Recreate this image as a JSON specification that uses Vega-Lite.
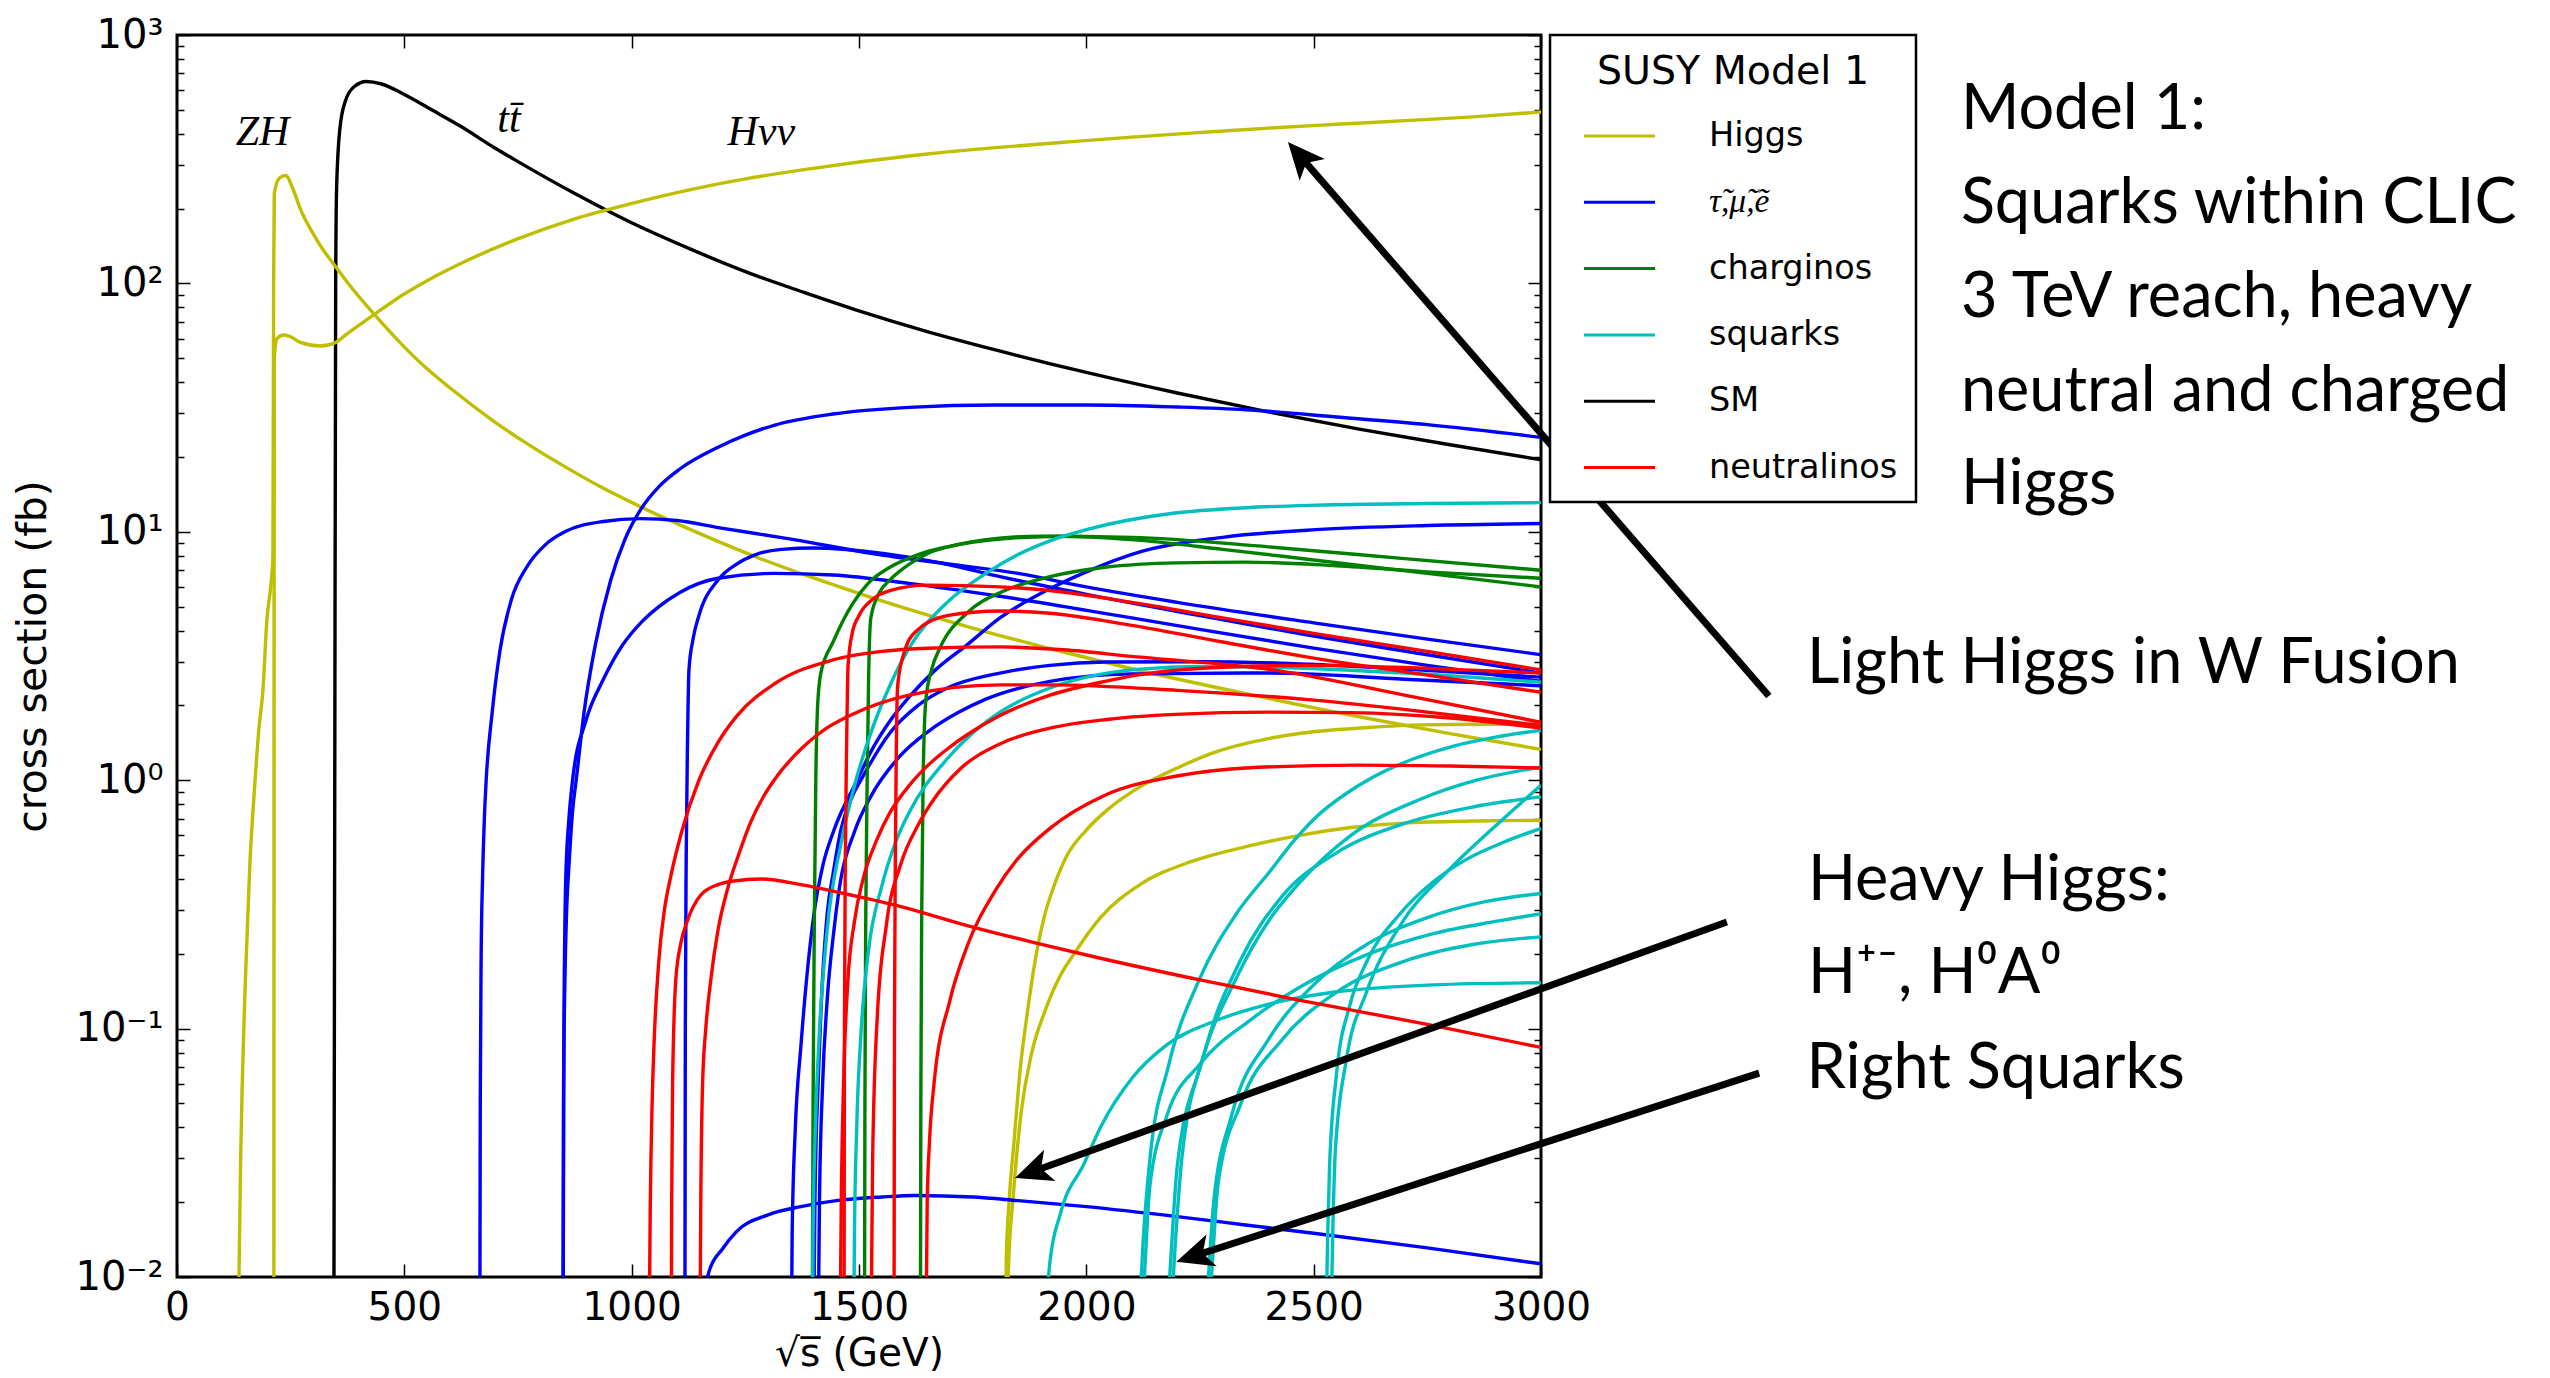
{
  "$schema": "https://vega.github.io/schema/vega-lite/v6.json",
  "width": 1364,
  "height": 1242,
  "autosize": "none",
  "padding": {"left": 177, "top": 35, "right": 1009, "bottom": 101},
  "background": "white",
  "config": {"view": {"stroke": "black", "strokeWidth": 3}, "font": "DejaVu Sans", "legend": {"strokeWidth": 2.5}},
  "datasets": {
    "curves": [
      {"g":"SM","id":"sm","x":345,"y":0.005},{"g":"SM","id":"sm","x":347,"y":1},{"g":"SM","id":"sm","x":349,"y":100},{"g":"SM","id":"sm","x":351,"y":240},{"g":"SM","id":"sm","x":358,"y":415},{"g":"SM","id":"sm","x":370,"y":540},{"g":"SM","id":"sm","x":390,"y":620},{"g":"SM","id":"sm","x":416,"y":650},{"g":"SM","id":"sm","x":450,"y":635},{"g":"SM","id":"sm","x":497,"y":580},{"g":"SM","id":"sm","x":560,"y":500},{"g":"SM","id":"sm","x":623,"y":430},{"g":"SM","id":"sm","x":700,"y":350},{"g":"SM","id":"sm","x":749,"y":310},{"g":"SM","id":"sm","x":875,"y":230},{"g":"SM","id":"sm","x":1001,"y":175},{"g":"SM","id":"sm","x":1127,"y":138},{"g":"SM","id":"sm","x":1253,"y":111},{"g":"SM","id":"sm","x":1379,"y":92},{"g":"SM","id":"sm","x":1505,"y":77},{"g":"SM","id":"sm","x":1650,"y":64},{"g":"SM","id":"sm","x":1800,"y":54},{"g":"SM","id":"sm","x":2000,"y":43.8},{"g":"SM","id":"sm","x":2200,"y":36.2},{"g":"SM","id":"sm","x":2400,"y":30.4},{"g":"SM","id":"sm","x":2600,"y":25.9},{"g":"SM","id":"sm","x":2800,"y":22.4},{"g":"SM","id":"sm","x":3000,"y":19.5},

      {"g":"Higgs","id":"zh","x":134,"y":0.005},{"g":"Higgs","id":"zh","x":140,"y":0.03},{"g":"Higgs","id":"zh","x":150,"y":0.15},{"g":"Higgs","id":"zh","x":160,"y":0.45},{"g":"Higgs","id":"zh","x":170,"y":0.9},{"g":"Higgs","id":"zh","x":180,"y":1.6},{"g":"Higgs","id":"zh","x":189,"y":2.3},{"g":"Higgs","id":"zh","x":198,"y":4.5},{"g":"Higgs","id":"zh","x":206,"y":6},{"g":"Higgs","id":"zh","x":211,"y":8},{"g":"Higgs","id":"zh","x":212.5,"y":100},{"g":"Higgs","id":"zh","x":214,"y":230},{"g":"Higgs","id":"zh","x":225,"y":265},{"g":"Higgs","id":"zh","x":239,"y":272},{"g":"Higgs","id":"zh","x":255,"y":240},{"g":"Higgs","id":"zh","x":271,"y":200},{"g":"Higgs","id":"zh","x":300,"y":158},{"g":"Higgs","id":"zh","x":321,"y":137},{"g":"Higgs","id":"zh","x":350,"y":116},{"g":"Higgs","id":"zh","x":371,"y":103},{"g":"Higgs","id":"zh","x":434,"y":75},{"g":"Higgs","id":"zh","x":497,"y":56.2},{"g":"Higgs","id":"zh","x":550,"y":45.3},{"g":"Higgs","id":"zh","x":600,"y":38},{"g":"Higgs","id":"zh","x":700,"y":27.6},{"g":"Higgs","id":"zh","x":769,"y":22.7},{"g":"Higgs","id":"zh","x":853,"y":18.3},{"g":"Higgs","id":"zh","x":937,"y":15.0},{"g":"Higgs","id":"zh","x":1020,"y":12.6},{"g":"Higgs","id":"zh","x":1150,"y":9.83},{"g":"Higgs","id":"zh","x":1273,"y":7.93},{"g":"Higgs","id":"zh","x":1400,"y":6.52},{"g":"Higgs","id":"zh","x":1526,"y":5.45},{"g":"Higgs","id":"zh","x":1650,"y":4.63},{"g":"Higgs","id":"zh","x":1810,"y":3.82},{"g":"Higgs","id":"zh","x":1920,"y":3.39},{"g":"Higgs","id":"zh","x":2100,"y":2.81},{"g":"Higgs","id":"zh","x":2351,"y":2.23},{"g":"Higgs","id":"zh","x":2600,"y":1.8},{"g":"Higgs","id":"zh","x":2800,"y":1.54},{"g":"Higgs","id":"zh","x":3000,"y":1.33},

      {"g":"Higgs","id":"hvv","x":213,"y":0.005},{"g":"Higgs","id":"hvv","x":213.5,"y":5},{"g":"Higgs","id":"hvv","x":214,"y":50},{"g":"Higgs","id":"hvv","x":220,"y":60},{"g":"Higgs","id":"hvv","x":235,"y":62},{"g":"Higgs","id":"hvv","x":250,"y":61},{"g":"Higgs","id":"hvv","x":270,"y":58},{"g":"Higgs","id":"hvv","x":315,"y":56},{"g":"Higgs","id":"hvv","x":350,"y":58},{"g":"Higgs","id":"hvv","x":371,"y":62},{"g":"Higgs","id":"hvv","x":434,"y":75},{"g":"Higgs","id":"hvv","x":497,"y":90},{"g":"Higgs","id":"hvv","x":560,"y":105},{"g":"Higgs","id":"hvv","x":623,"y":120},{"g":"Higgs","id":"hvv","x":749,"y":151},{"g":"Higgs","id":"hvv","x":875,"y":182},{"g":"Higgs","id":"hvv","x":1001,"y":210},{"g":"Higgs","id":"hvv","x":1127,"y":238},{"g":"Higgs","id":"hvv","x":1253,"y":264},{"g":"Higgs","id":"hvv","x":1379,"y":287},{"g":"Higgs","id":"hvv","x":1500,"y":308},{"g":"Higgs","id":"hvv","x":1650,"y":332},{"g":"Higgs","id":"hvv","x":1800,"y":352},{"g":"Higgs","id":"hvv","x":1950,"y":370},{"g":"Higgs","id":"hvv","x":2100,"y":388},{"g":"Higgs","id":"hvv","x":2250,"y":405},{"g":"Higgs","id":"hvv","x":2400,"y":422},{"g":"Higgs","id":"hvv","x":2550,"y":437},{"g":"Higgs","id":"hvv","x":2700,"y":452},{"g":"Higgs","id":"hvv","x":2850,"y":468},{"g":"Higgs","id":"hvv","x":3000,"y":490},

      {"g":"Higgs","id":"hH1","x":1822,"y":0.005},{"g":"Higgs","id":"hH1","x":1824,"y":0.012},{"g":"Higgs","id":"hH1","x":1830,"y":0.02},{"g":"Higgs","id":"hH1","x":1841,"y":0.035},{"g":"Higgs","id":"hH1","x":1855,"y":0.07},{"g":"Higgs","id":"hH1","x":1870,"y":0.115},{"g":"Higgs","id":"hH1","x":1890,"y":0.2},{"g":"Higgs","id":"hH1","x":1907,"y":0.28},{"g":"Higgs","id":"hH1","x":1930,"y":0.38},{"g":"Higgs","id":"hH1","x":1958,"y":0.5},{"g":"Higgs","id":"hH1","x":2000,"y":0.63},{"g":"Higgs","id":"hH1","x":2050,"y":0.77},{"g":"Higgs","id":"hH1","x":2118,"y":0.94},{"g":"Higgs","id":"hH1","x":2200,"y":1.12},{"g":"Higgs","id":"hH1","x":2274,"y":1.28},{"g":"Higgs","id":"hH1","x":2400,"y":1.47},{"g":"Higgs","id":"hH1","x":2505,"y":1.57},{"g":"Higgs","id":"hH1","x":2620,"y":1.63},{"g":"Higgs","id":"hH1","x":2736,"y":1.67},{"g":"Higgs","id":"hH1","x":2870,"y":1.68},{"g":"Higgs","id":"hH1","x":3000,"y":1.68},

      {"g":"Higgs","id":"hH2","x":1824,"y":0.005},{"g":"Higgs","id":"hH2","x":1828,"y":0.01},{"g":"Higgs","id":"hH2","x":1840,"y":0.022},{"g":"Higgs","id":"hH2","x":1856,"y":0.045},{"g":"Higgs","id":"hH2","x":1880,"y":0.08},{"g":"Higgs","id":"hH2","x":1907,"y":0.115},{"g":"Higgs","id":"hH2","x":1940,"y":0.16},{"g":"Higgs","id":"hH2","x":1973,"y":0.2},{"g":"Higgs","id":"hH2","x":2031,"y":0.28},{"g":"Higgs","id":"hH2","x":2118,"y":0.38},{"g":"Higgs","id":"hH2","x":2230,"y":0.47},{"g":"Higgs","id":"hH2","x":2351,"y":0.54},{"g":"Higgs","id":"hH2","x":2470,"y":0.6},{"g":"Higgs","id":"hH2","x":2582,"y":0.645},{"g":"Higgs","id":"hH2","x":2700,"y":0.672},{"g":"Higgs","id":"hH2","x":2850,"y":0.685},{"g":"Higgs","id":"hH2","x":3000,"y":0.69},

      {"g":"slepton","id":"ba","x":666,"y":0.005},{"g":"slepton","id":"ba","x":667,"y":0.05},{"g":"slepton","id":"ba","x":669,"y":0.2},{"g":"slepton","id":"ba","x":672,"y":0.4},{"g":"slepton","id":"ba","x":676,"y":0.7},{"g":"slepton","id":"ba","x":680,"y":1.0},{"g":"slepton","id":"ba","x":693,"y":1.86},{"g":"slepton","id":"ba","x":710,"y":3.3},{"g":"slepton","id":"ba","x":735,"y":5.3},{"g":"slepton","id":"ba","x":769,"y":7.2},{"g":"slepton","id":"ba","x":811,"y":8.9},{"g":"slepton","id":"ba","x":853,"y":10},{"g":"slepton","id":"ba","x":937,"y":11},{"g":"slepton","id":"ba","x":1020,"y":11.3},{"g":"slepton","id":"ba","x":1100,"y":11.1},{"g":"slepton","id":"ba","x":1190,"y":10.4},{"g":"slepton","id":"ba","x":1357,"y":9.3},{"g":"slepton","id":"ba","x":1526,"y":8.2},{"g":"slepton","id":"ba","x":1700,"y":7.4},{"g":"slepton","id":"ba","x":1850,"y":6.8},{"g":"slepton","id":"ba","x":2000,"y":6.0},{"g":"slepton","id":"ba","x":2200,"y":5.2},{"g":"slepton","id":"ba","x":2500,"y":4.3},{"g":"slepton","id":"ba","x":2750,"y":3.7},{"g":"slepton","id":"ba","x":3000,"y":3.2},

      {"g":"slepton","id":"bb","x":849,"y":0.005},{"g":"slepton","id":"bb","x":850,"y":0.05},{"g":"slepton","id":"bb","x":853,"y":0.15},{"g":"slepton","id":"bb","x":857,"y":0.3},{"g":"slepton","id":"bb","x":862,"y":0.45},{"g":"slepton","id":"bb","x":870,"y":0.75},{"g":"slepton","id":"bb","x":878,"y":1.0},{"g":"slepton","id":"bb","x":895,"y":1.86},{"g":"slepton","id":"bb","x":920,"y":3.5},{"g":"slepton","id":"bb","x":954,"y":6.4},{"g":"slepton","id":"bb","x":985,"y":9.3},{"g":"slepton","id":"bb","x":1020,"y":12.3},{"g":"slepton","id":"bb","x":1060,"y":15.2},{"g":"slepton","id":"bb","x":1106,"y":17.9},{"g":"slepton","id":"bb","x":1190,"y":21.9},{"g":"slepton","id":"bb","x":1250,"y":24.5},{"g":"slepton","id":"bb","x":1315,"y":26.9},{"g":"slepton","id":"bb","x":1443,"y":29.8},{"g":"slepton","id":"bb","x":1610,"y":31.7},{"g":"slepton","id":"bb","x":1800,"y":32.4},{"g":"slepton","id":"bb","x":2000,"y":32.4},{"g":"slepton","id":"bb","x":2200,"y":31.8},{"g":"slepton","id":"bb","x":2351,"y":31},{"g":"slepton","id":"bb","x":2550,"y":29},{"g":"slepton","id":"bb","x":2750,"y":27},{"g":"slepton","id":"bb","x":3000,"y":24},

      {"g":"slepton","id":"bc","x":849,"y":0.005},{"g":"slepton","id":"bc","x":851,"y":0.1},{"g":"slepton","id":"bc","x":855,"y":0.4},{"g":"slepton","id":"bc","x":862,"y":0.7},{"g":"slepton","id":"bc","x":870,"y":1.0},{"g":"slepton","id":"bc","x":900,"y":1.75},{"g":"slepton","id":"bc","x":937,"y":2.53},{"g":"slepton","id":"bc","x":980,"y":3.5},{"g":"slepton","id":"bc","x":1020,"y":4.3},{"g":"slepton","id":"bc","x":1060,"y":5.0},{"g":"slepton","id":"bc","x":1106,"y":5.7},{"g":"slepton","id":"bc","x":1190,"y":6.5},{"g":"slepton","id":"bc","x":1315,"y":6.8},{"g":"slepton","id":"bc","x":1443,"y":6.7},{"g":"slepton","id":"bc","x":1610,"y":6.2},{"g":"slepton","id":"bc","x":1810,"y":5.5},{"g":"slepton","id":"bc","x":2100,"y":4.5},{"g":"slepton","id":"bc","x":2500,"y":3.4},{"g":"slepton","id":"bc","x":2750,"y":2.9},{"g":"slepton","id":"bc","x":3000,"y":2.5},

      {"g":"slepton","id":"bd","x":1117,"y":0.005},{"g":"slepton","id":"bd","x":1118,"y":0.1},{"g":"slepton","id":"bd","x":1120,"y":0.5},{"g":"slepton","id":"bd","x":1123,"y":1.5},{"g":"slepton","id":"bd","x":1126,"y":2.78},{"g":"slepton","id":"bd","x":1135,"y":3.7},{"g":"slepton","id":"bd","x":1148,"y":4.6},{"g":"slepton","id":"bd","x":1190,"y":6.4},{"g":"slepton","id":"bd","x":1230,"y":7.4},{"g":"slepton","id":"bd","x":1273,"y":8.1},{"g":"slepton","id":"bd","x":1330,"y":8.5},{"g":"slepton","id":"bd","x":1401,"y":8.6},{"g":"slepton","id":"bd","x":1526,"y":8.3},{"g":"slepton","id":"bd","x":1693,"y":7.4},{"g":"slepton","id":"bd","x":1810,"y":6.6},{"g":"slepton","id":"bd","x":2000,"y":5.6},{"g":"slepton","id":"bd","x":2250,"y":4.6},{"g":"slepton","id":"bd","x":2500,"y":3.8},{"g":"slepton","id":"bd","x":2750,"y":3.2},{"g":"slepton","id":"bd","x":3000,"y":2.7},

      {"g":"slepton","id":"be","x":1351,"y":0.005},{"g":"slepton","id":"be","x":1353,"y":0.015},{"g":"slepton","id":"be","x":1360,"y":0.04},{"g":"slepton","id":"be","x":1372,"y":0.084},{"g":"slepton","id":"be","x":1385,"y":0.16},{"g":"slepton","id":"be","x":1401,"y":0.29},{"g":"slepton","id":"be","x":1420,"y":0.45},{"g":"slepton","id":"be","x":1445,"y":0.63},{"g":"slepton","id":"be","x":1496,"y":1.0},{"g":"slepton","id":"be","x":1526,"y":1.3},{"g":"slepton","id":"be","x":1570,"y":1.75},{"g":"slepton","id":"be","x":1610,"y":2.16},{"g":"slepton","id":"be","x":1670,"y":2.8},{"g":"slepton","id":"be","x":1737,"y":3.5},{"g":"slepton","id":"be","x":1810,"y":4.5},{"g":"slepton","id":"be","x":1920,"y":5.9},{"g":"slepton","id":"be","x":2000,"y":6.9},{"g":"slepton","id":"be","x":2118,"y":8.3},{"g":"slepton","id":"be","x":2300,"y":9.5},{"g":"slepton","id":"be","x":2505,"y":10.2},{"g":"slepton","id":"be","x":2750,"y":10.6},{"g":"slepton","id":"be","x":3000,"y":10.8},

      {"g":"slepton","id":"bf","x":1400,"y":0.005},{"g":"slepton","id":"bf","x":1403,"y":0.02},{"g":"slepton","id":"bf","x":1410,"y":0.06},{"g":"slepton","id":"bf","x":1416,"y":0.115},{"g":"slepton","id":"bf","x":1430,"y":0.29},{"g":"slepton","id":"bf","x":1443,"y":0.42},{"g":"slepton","id":"bf","x":1460,"y":0.63},{"g":"slepton","id":"bf","x":1485,"y":0.86},{"g":"slepton","id":"bf","x":1504,"y":1.0},{"g":"slepton","id":"bf","x":1568,"y":1.55},{"g":"slepton","id":"bf","x":1630,"y":2.0},{"g":"slepton","id":"bf","x":1694,"y":2.35},{"g":"slepton","id":"bf","x":1810,"y":2.7},{"g":"slepton","id":"bf","x":1920,"y":2.9},{"g":"slepton","id":"bf","x":2041,"y":2.99},{"g":"slepton","id":"bf","x":2250,"y":3.0},{"g":"slepton","id":"bf","x":2428,"y":2.96},{"g":"slepton","id":"bf","x":2700,"y":2.8},{"g":"slepton","id":"bf","x":3000,"y":2.6},

      {"g":"slepton","id":"bg","x":1410,"y":0.005},{"g":"slepton","id":"bg","x":1413,"y":0.02},{"g":"slepton","id":"bg","x":1420,"y":0.06},{"g":"slepton","id":"bg","x":1430,"y":0.13},{"g":"slepton","id":"bg","x":1445,"y":0.25},{"g":"slepton","id":"bg","x":1458,"y":0.38},{"g":"slepton","id":"bg","x":1490,"y":0.62},{"g":"slepton","id":"bg","x":1526,"y":0.86},{"g":"slepton","id":"bg","x":1590,"y":1.25},{"g":"slepton","id":"bg","x":1652,"y":1.57},{"g":"slepton","id":"bg","x":1720,"y":1.88},{"g":"slepton","id":"bg","x":1779,"y":2.12},{"g":"slepton","id":"bg","x":1920,"y":2.5},{"g":"slepton","id":"bg","x":2100,"y":2.68},{"g":"slepton","id":"bg","x":2400,"y":2.7},{"g":"slepton","id":"bg","x":2700,"y":2.55},{"g":"slepton","id":"bg","x":3000,"y":2.4},

      {"g":"slepton","id":"bl","x":1156,"y":0.008},{"g":"slepton","id":"bl","x":1170,"y":0.0105},{"g":"slepton","id":"bl","x":1200,"y":0.013},{"g":"slepton","id":"bl","x":1230,"y":0.0152},{"g":"slepton","id":"bl","x":1300,"y":0.0178},{"g":"slepton","id":"bl","x":1372,"y":0.0192},{"g":"slepton","id":"bl","x":1450,"y":0.0203},{"g":"slepton","id":"bl","x":1550,"y":0.021},{"g":"slepton","id":"bl","x":1623,"y":0.0213},{"g":"slepton","id":"bl","x":1750,"y":0.021},{"g":"slepton","id":"bl","x":1850,"y":0.0203},{"g":"slepton","id":"bl","x":2000,"y":0.0192},{"g":"slepton","id":"bl","x":2200,"y":0.0175},{"g":"slepton","id":"bl","x":2350,"y":0.0162},{"g":"slepton","id":"bl","x":2500,"y":0.015},{"g":"slepton","id":"bl","x":2750,"y":0.0131},{"g":"slepton","id":"bl","x":3000,"y":0.0113},

      {"g":"charginos","id":"g1","x":1397,"y":0.005},{"g":"charginos","id":"g1","x":1399,"y":0.05},{"g":"charginos","id":"g1","x":1402,"y":0.3},{"g":"charginos","id":"g1","x":1405,"y":1.0},{"g":"charginos","id":"g1","x":1409,"y":2.0},{"g":"charginos","id":"g1","x":1416,"y":2.7},{"g":"charginos","id":"g1","x":1443,"y":3.6},{"g":"charginos","id":"g1","x":1485,"y":5.1},{"g":"charginos","id":"g1","x":1520,"y":6.2},{"g":"charginos","id":"g1","x":1568,"y":7.2},{"g":"charginos","id":"g1","x":1630,"y":8.1},{"g":"charginos","id":"g1","x":1694,"y":8.7},{"g":"charginos","id":"g1","x":1810,"y":9.35},{"g":"charginos","id":"g1","x":1950,"y":9.6},{"g":"charginos","id":"g1","x":2100,"y":9.3},{"g":"charginos","id":"g1","x":2300,"y":8.5},{"g":"charginos","id":"g1","x":2500,"y":7.7},{"g":"charginos","id":"g1","x":2750,"y":6.8},{"g":"charginos","id":"g1","x":3000,"y":6.0},

      {"g":"charginos","id":"g2","x":1512,"y":0.005},{"g":"charginos","id":"g2","x":1513,"y":0.05},{"g":"charginos","id":"g2","x":1515,"y":0.3},{"g":"charginos","id":"g2","x":1518,"y":1.0},{"g":"charginos","id":"g2","x":1521,"y":2.5},{"g":"charginos","id":"g2","x":1526,"y":4.5},{"g":"charginos","id":"g2","x":1545,"y":5.7},{"g":"charginos","id":"g2","x":1568,"y":6.4},{"g":"charginos","id":"g2","x":1610,"y":7.4},{"g":"charginos","id":"g2","x":1652,"y":8.2},{"g":"charginos","id":"g2","x":1720,"y":8.9},{"g":"charginos","id":"g2","x":1779,"y":9.3},{"g":"charginos","id":"g2","x":1900,"y":9.6},{"g":"charginos","id":"g2","x":2100,"y":9.5},{"g":"charginos","id":"g2","x":2400,"y":8.7},{"g":"charginos","id":"g2","x":2700,"y":7.8},{"g":"charginos","id":"g2","x":3000,"y":7.0},

      {"g":"charginos","id":"g3","x":1635,"y":0.005},{"g":"charginos","id":"g3","x":1636,"y":0.05},{"g":"charginos","id":"g3","x":1638,"y":0.3},{"g":"charginos","id":"g3","x":1641,"y":1.0},{"g":"charginos","id":"g3","x":1647,"y":2.1},{"g":"charginos","id":"g3","x":1660,"y":2.8},{"g":"charginos","id":"g3","x":1678,"y":3.4},{"g":"charginos","id":"g3","x":1737,"y":4.7},{"g":"charginos","id":"g3","x":1821,"y":5.8},{"g":"charginos","id":"g3","x":1920,"y":6.6},{"g":"charginos","id":"g3","x":2041,"y":7.2},{"g":"charginos","id":"g3","x":2200,"y":7.5},{"g":"charginos","id":"g3","x":2351,"y":7.55},{"g":"charginos","id":"g3","x":2550,"y":7.3},{"g":"charginos","id":"g3","x":2750,"y":6.9},{"g":"charginos","id":"g3","x":3000,"y":6.5},

      {"g":"squarks","id":"c1","x":1397,"y":0.005},{"g":"squarks","id":"c1","x":1399,"y":0.015},{"g":"squarks","id":"c1","x":1404,"y":0.04},{"g":"squarks","id":"c1","x":1412,"y":0.09},{"g":"squarks","id":"c1","x":1430,"y":0.25},{"g":"squarks","id":"c1","x":1460,"y":0.55},{"g":"squarks","id":"c1","x":1490,"y":0.95},{"g":"squarks","id":"c1","x":1526,"y":1.55},{"g":"squarks","id":"c1","x":1570,"y":2.45},{"g":"squarks","id":"c1","x":1610,"y":3.4},{"g":"squarks","id":"c1","x":1694,"y":5.2},{"g":"squarks","id":"c1","x":1779,"y":6.8},{"g":"squarks","id":"c1","x":1850,"y":8.1},{"g":"squarks","id":"c1","x":1920,"y":9.2},{"g":"squarks","id":"c1","x":2000,"y":10.2},{"g":"squarks","id":"c1","x":2195,"y":11.9},{"g":"squarks","id":"c1","x":2350,"y":12.5},{"g":"squarks","id":"c1","x":2505,"y":12.8},{"g":"squarks","id":"c1","x":2750,"y":13.0},{"g":"squarks","id":"c1","x":3000,"y":13.1},

      {"g":"squarks","id":"c2","x":1488,"y":0.005},{"g":"squarks","id":"c2","x":1490,"y":0.015},{"g":"squarks","id":"c2","x":1495,"y":0.04},{"g":"squarks","id":"c2","x":1505,"y":0.1},{"g":"squarks","id":"c2","x":1520,"y":0.2},{"g":"squarks","id":"c2","x":1551,"y":0.38},{"g":"squarks","id":"c2","x":1580,"y":0.56},{"g":"squarks","id":"c2","x":1610,"y":0.74},{"g":"squarks","id":"c2","x":1694,"y":1.22},{"g":"squarks","id":"c2","x":1750,"y":1.55},{"g":"squarks","id":"c2","x":1810,"y":1.88},{"g":"squarks","id":"c2","x":1920,"y":2.35},{"g":"squarks","id":"c2","x":2000,"y":2.6},{"g":"squarks","id":"c2","x":2118,"y":2.8},{"g":"squarks","id":"c2","x":2250,"y":2.87},{"g":"squarks","id":"c2","x":2400,"y":2.85},{"g":"squarks","id":"c2","x":2700,"y":2.7},{"g":"squarks","id":"c2","x":3000,"y":2.48},

      {"g":"squarks","id":"cy1","x":1912,"y":0.008},{"g":"squarks","id":"cy1","x":1920,"y":0.0115},{"g":"squarks","id":"cy1","x":1943,"y":0.018},{"g":"squarks","id":"cy1","x":1995,"y":0.0286},{"g":"squarks","id":"cy1","x":2031,"y":0.04},{"g":"squarks","id":"cy1","x":2103,"y":0.064},{"g":"squarks","id":"cy1","x":2177,"y":0.086},{"g":"squarks","id":"cy1","x":2287,"y":0.108},{"g":"squarks","id":"cy1","x":2397,"y":0.125},{"g":"squarks","id":"cy1","x":2543,"y":0.14},{"g":"squarks","id":"cy1","x":2763,"y":0.15},{"g":"squarks","id":"cy1","x":3000,"y":0.153},

      {"g":"squarks","id":"cya","x":2118,"y":0.008},{"g":"squarks","id":"cya","x":2125,"y":0.014},{"g":"squarks","id":"cya","x":2140,"y":0.03},{"g":"squarks","id":"cya","x":2180,"y":0.07},{"g":"squarks","id":"cya","x":2250,"y":0.16},{"g":"squarks","id":"cya","x":2330,"y":0.29},{"g":"squarks","id":"cya","x":2404,"y":0.43},{"g":"squarks","id":"cya","x":2460,"y":0.58},{"g":"squarks","id":"cya","x":2505,"y":0.71},{"g":"squarks","id":"cya","x":2570,"y":0.88},{"g":"squarks","id":"cya","x":2631,"y":1.03},{"g":"squarks","id":"cya","x":2720,"y":1.22},{"g":"squarks","id":"cya","x":2800,"y":1.36},{"g":"squarks","id":"cya","x":2900,"y":1.49},{"g":"squarks","id":"cya","x":3000,"y":1.59},

      {"g":"squarks","id":"cyb","x":2180,"y":0.008},{"g":"squarks","id":"cyb","x":2186,"y":0.012},{"g":"squarks","id":"cyb","x":2200,"y":0.028},{"g":"squarks","id":"cyb","x":2250,"y":0.07},{"g":"squarks","id":"cyb","x":2330,"y":0.16},{"g":"squarks","id":"cyb","x":2400,"y":0.27},{"g":"squarks","id":"cyb","x":2465,"y":0.38},{"g":"squarks","id":"cyb","x":2582,"y":0.6},{"g":"squarks","id":"cyb","x":2736,"y":0.84},{"g":"squarks","id":"cyb","x":2858,"y":1.0},{"g":"squarks","id":"cyb","x":3000,"y":1.13},

      {"g":"squarks","id":"cyc","x":2188,"y":0.008},{"g":"squarks","id":"cyc","x":2195,"y":0.013},{"g":"squarks","id":"cyc","x":2210,"y":0.03},{"g":"squarks","id":"cyc","x":2260,"y":0.08},{"g":"squarks","id":"cyc","x":2340,"y":0.19},{"g":"squarks","id":"cyc","x":2430,"y":0.34},{"g":"squarks","id":"cyc","x":2550,"y":0.51},{"g":"squarks","id":"cyc","x":2700,"y":0.67},{"g":"squarks","id":"cyc","x":2850,"y":0.78},{"g":"squarks","id":"cyc","x":3000,"y":0.857},

      {"g":"squarks","id":"cyd","x":2265,"y":0.008},{"g":"squarks","id":"cyd","x":2270,"y":0.011},{"g":"squarks","id":"cyd","x":2280,"y":0.02},{"g":"squarks","id":"cyd","x":2320,"y":0.045},{"g":"squarks","id":"cyd","x":2400,"y":0.09},{"g":"squarks","id":"cyd","x":2500,"y":0.15},{"g":"squarks","id":"cyd","x":2620,"y":0.22},{"g":"squarks","id":"cyd","x":2750,"y":0.28},{"g":"squarks","id":"cyd","x":2880,"y":0.325},{"g":"squarks","id":"cyd","x":3000,"y":0.35},

      {"g":"squarks","id":"cye","x":2125,"y":0.008},{"g":"squarks","id":"cye","x":2130,"y":0.012},{"g":"squarks","id":"cye","x":2140,"y":0.0235},{"g":"squarks","id":"cye","x":2177,"y":0.0445},{"g":"squarks","id":"cye","x":2250,"y":0.072},{"g":"squarks","id":"cye","x":2360,"y":0.108},{"g":"squarks","id":"cye","x":2470,"y":0.147},{"g":"squarks","id":"cye","x":2616,"y":0.198},{"g":"squarks","id":"cye","x":2763,"y":0.241},{"g":"squarks","id":"cye","x":2900,"y":0.27},{"g":"squarks","id":"cye","x":3000,"y":0.29},

      {"g":"squarks","id":"cyf","x":2272,"y":0.008},{"g":"squarks","id":"cyf","x":2278,"y":0.012},{"g":"squarks","id":"cyf","x":2290,"y":0.024},{"g":"squarks","id":"cyf","x":2340,"y":0.05},{"g":"squarks","id":"cyf","x":2430,"y":0.09},{"g":"squarks","id":"cyf","x":2550,"y":0.14},{"g":"squarks","id":"cyf","x":2700,"y":0.187},{"g":"squarks","id":"cyf","x":2850,"y":0.218},{"g":"squarks","id":"cyf","x":3000,"y":0.234},

      {"g":"squarks","id":"cyg","x":2528,"y":0.008},{"g":"squarks","id":"cyg","x":2531,"y":0.015},{"g":"squarks","id":"cyg","x":2535,"y":0.028},{"g":"squarks","id":"cyg","x":2550,"y":0.065},{"g":"squarks","id":"cyg","x":2580,"y":0.125},{"g":"squarks","id":"cyg","x":2616,"y":0.185},{"g":"squarks","id":"cyg","x":2690,"y":0.29},{"g":"squarks","id":"cyg","x":2763,"y":0.39},{"g":"squarks","id":"cyg","x":2836,"y":0.48},{"g":"squarks","id":"cyg","x":2920,"y":0.565},{"g":"squarks","id":"cyg","x":3000,"y":0.64},

      {"g":"squarks","id":"cyh","x":2539,"y":0.008},{"g":"squarks","id":"cyh","x":2542,"y":0.015},{"g":"squarks","id":"cyh","x":2548,"y":0.033},{"g":"squarks","id":"cyh","x":2572,"y":0.075},{"g":"squarks","id":"cyh","x":2616,"y":0.14},{"g":"squarks","id":"cyh","x":2690,"y":0.26},{"g":"squarks","id":"cyh","x":2800,"y":0.44},{"g":"squarks","id":"cyh","x":2910,"y":0.68},{"g":"squarks","id":"cyh","x":3000,"y":0.955},

      {"g":"neutralinos","id":"ra","x":1467,"y":0.005},{"g":"neutralinos","id":"ra","x":1468,"y":0.1},{"g":"neutralinos","id":"ra","x":1470,"y":0.5},{"g":"neutralinos","id":"ra","x":1473,"y":1.5},{"g":"neutralinos","id":"ra","x":1476,"y":2.9},{"g":"neutralinos","id":"ra","x":1485,"y":3.9},{"g":"neutralinos","id":"ra","x":1500,"y":4.6},{"g":"neutralinos","id":"ra","x":1530,"y":5.35},{"g":"neutralinos","id":"ra","x":1568,"y":5.8},{"g":"neutralinos","id":"ra","x":1652,"y":6.1},{"g":"neutralinos","id":"ra","x":1810,"y":6.0},{"g":"neutralinos","id":"ra","x":1920,"y":5.8},{"g":"neutralinos","id":"ra","x":2100,"y":5.2},{"g":"neutralinos","id":"ra","x":2300,"y":4.5},{"g":"neutralinos","id":"ra","x":2500,"y":3.9},{"g":"neutralinos","id":"ra","x":2750,"y":3.3},{"g":"neutralinos","id":"ra","x":3000,"y":2.78},

      {"g":"neutralinos","id":"rb","x":1577,"y":0.005},{"g":"neutralinos","id":"rb","x":1578,"y":0.1},{"g":"neutralinos","id":"rb","x":1580,"y":0.5},{"g":"neutralinos","id":"rb","x":1582,"y":1.3},{"g":"neutralinos","id":"rb","x":1585,"y":2.4},{"g":"neutralinos","id":"rb","x":1600,"y":3.3},{"g":"neutralinos","id":"rb","x":1627,"y":4.0},{"g":"neutralinos","id":"rb","x":1694,"y":4.6},{"g":"neutralinos","id":"rb","x":1810,"y":4.8},{"g":"neutralinos","id":"rb","x":1920,"y":4.7},{"g":"neutralinos","id":"rb","x":2100,"y":4.2},{"g":"neutralinos","id":"rb","x":2300,"y":3.6},{"g":"neutralinos","id":"rb","x":2500,"y":3.1},{"g":"neutralinos","id":"rb","x":2750,"y":2.65},{"g":"neutralinos","id":"rb","x":3000,"y":2.26},

      {"g":"neutralinos","id":"rc","x":1038,"y":0.005},{"g":"neutralinos","id":"rc","x":1041,"y":0.02},{"g":"neutralinos","id":"rc","x":1045,"y":0.05},{"g":"neutralinos","id":"rc","x":1049,"y":0.085},{"g":"neutralinos","id":"rc","x":1060,"y":0.19},{"g":"neutralinos","id":"rc","x":1072,"y":0.3},{"g":"neutralinos","id":"rc","x":1086,"y":0.41},{"g":"neutralinos","id":"rc","x":1110,"y":0.62},{"g":"neutralinos","id":"rc","x":1148,"y":1.0},{"g":"neutralinos","id":"rc","x":1190,"y":1.42},{"g":"neutralinos","id":"rc","x":1232,"y":1.82},{"g":"neutralinos","id":"rc","x":1315,"y":2.45},{"g":"neutralinos","id":"rc","x":1443,"y":3.05},{"g":"neutralinos","id":"rc","x":1550,"y":3.3},{"g":"neutralinos","id":"rc","x":1652,"y":3.4},{"g":"neutralinos","id":"rc","x":1810,"y":3.44},{"g":"neutralinos","id":"rc","x":1950,"y":3.35},{"g":"neutralinos","id":"rc","x":2100,"y":3.15},{"g":"neutralinos","id":"rc","x":2428,"y":2.75},{"g":"neutralinos","id":"rc","x":2700,"y":2.2},{"g":"neutralinos","id":"rc","x":3000,"y":1.71},

      {"g":"neutralinos","id":"rd","x":1150,"y":0.005},{"g":"neutralinos","id":"rd","x":1152,"y":0.02},{"g":"neutralinos","id":"rd","x":1156,"y":0.06},{"g":"neutralinos","id":"rd","x":1163,"y":0.1},{"g":"neutralinos","id":"rd","x":1174,"y":0.157},{"g":"neutralinos","id":"rd","x":1190,"y":0.25},{"g":"neutralinos","id":"rd","x":1210,"y":0.36},{"g":"neutralinos","id":"rd","x":1235,"y":0.5},{"g":"neutralinos","id":"rd","x":1262,"y":0.68},{"g":"neutralinos","id":"rd","x":1290,"y":0.86},{"g":"neutralinos","id":"rd","x":1320,"y":1.04},{"g":"neutralinos","id":"rd","x":1357,"y":1.25},{"g":"neutralinos","id":"rd","x":1420,"y":1.58},{"g":"neutralinos","id":"rd","x":1485,"y":1.84},{"g":"neutralinos","id":"rd","x":1610,"y":2.2},{"g":"neutralinos","id":"rd","x":1810,"y":2.42},{"g":"neutralinos","id":"rd","x":1920,"y":2.42},{"g":"neutralinos","id":"rd","x":2200,"y":2.3},{"g":"neutralinos","id":"rd","x":2500,"y":2.1},{"g":"neutralinos","id":"rd","x":2750,"y":1.88},{"g":"neutralinos","id":"rd","x":3000,"y":1.66},

      {"g":"neutralinos","id":"re","x":1458,"y":0.005},{"g":"neutralinos","id":"re","x":1461,"y":0.02},{"g":"neutralinos","id":"re","x":1466,"y":0.06},{"g":"neutralinos","id":"re","x":1475,"y":0.15},{"g":"neutralinos","id":"re","x":1490,"y":0.27},{"g":"neutralinos","id":"re","x":1509,"y":0.4},{"g":"neutralinos","id":"re","x":1540,"y":0.58},{"g":"neutralinos","id":"re","x":1568,"y":0.74},{"g":"neutralinos","id":"re","x":1610,"y":0.95},{"g":"neutralinos","id":"re","x":1652,"y":1.15},{"g":"neutralinos","id":"re","x":1700,"y":1.36},{"g":"neutralinos","id":"re","x":1737,"y":1.52},{"g":"neutralinos","id":"re","x":1810,"y":1.82},{"g":"neutralinos","id":"re","x":1920,"y":2.2},{"g":"neutralinos","id":"re","x":2041,"y":2.5},{"g":"neutralinos","id":"re","x":2118,"y":2.66},{"g":"neutralinos","id":"re","x":2300,"y":2.85},{"g":"neutralinos","id":"re","x":2500,"y":2.9},{"g":"neutralinos","id":"re","x":2750,"y":2.82},{"g":"neutralinos","id":"re","x":3000,"y":2.7},

      {"g":"neutralinos","id":"rf","x":1526,"y":0.005},{"g":"neutralinos","id":"rf","x":1530,"y":0.03},{"g":"neutralinos","id":"rf","x":1540,"y":0.11},{"g":"neutralinos","id":"rf","x":1560,"y":0.26},{"g":"neutralinos","id":"rf","x":1592,"y":0.46},{"g":"neutralinos","id":"rf","x":1630,"y":0.66},{"g":"neutralinos","id":"rf","x":1665,"y":0.84},{"g":"neutralinos","id":"rf","x":1720,"y":1.1},{"g":"neutralinos","id":"rf","x":1810,"y":1.4},{"g":"neutralinos","id":"rf","x":1920,"y":1.62},{"g":"neutralinos","id":"rf","x":2050,"y":1.76},{"g":"neutralinos","id":"rf","x":2195,"y":1.84},{"g":"neutralinos","id":"rf","x":2400,"y":1.88},{"g":"neutralinos","id":"rf","x":2582,"y":1.87},{"g":"neutralinos","id":"rf","x":2800,"y":1.78},{"g":"neutralinos","id":"rf","x":3000,"y":1.62},

      {"g":"neutralinos","id":"rg","x":1647,"y":0.005},{"g":"neutralinos","id":"rg","x":1650,"y":0.02},{"g":"neutralinos","id":"rg","x":1655,"y":0.035},{"g":"neutralinos","id":"rg","x":1665,"y":0.06},{"g":"neutralinos","id":"rg","x":1700,"y":0.13},{"g":"neutralinos","id":"rg","x":1738,"y":0.215},{"g":"neutralinos","id":"rg","x":1800,"y":0.36},{"g":"neutralinos","id":"rg","x":1848,"y":0.48},{"g":"neutralinos","id":"rg","x":1920,"y":0.64},{"g":"neutralinos","id":"rg","x":2041,"y":0.87},{"g":"neutralinos","id":"rg","x":2200,"y":1.04},{"g":"neutralinos","id":"rg","x":2351,"y":1.12},{"g":"neutralinos","id":"rg","x":2600,"y":1.15},{"g":"neutralinos","id":"rg","x":2800,"y":1.14},{"g":"neutralinos","id":"rg","x":3000,"y":1.12},

      {"g":"neutralinos","id":"rl","x":1087,"y":0.005},{"g":"neutralinos","id":"rl","x":1088,"y":0.02},{"g":"neutralinos","id":"rl","x":1090,"y":0.06},{"g":"neutralinos","id":"rl","x":1097,"y":0.157},{"g":"neutralinos","id":"rl","x":1108,"y":0.22},{"g":"neutralinos","id":"rl","x":1122,"y":0.27},{"g":"neutralinos","id":"rl","x":1152,"y":0.345},{"g":"neutralinos","id":"rl","x":1190,"y":0.38},{"g":"neutralinos","id":"rl","x":1225,"y":0.393},{"g":"neutralinos","id":"rl","x":1284,"y":0.4},{"g":"neutralinos","id":"rl","x":1372,"y":0.38},{"g":"neutralinos","id":"rl","x":1482,"y":0.345},{"g":"neutralinos","id":"rl","x":1592,"y":0.31},{"g":"neutralinos","id":"rl","x":1738,"y":0.26},{"g":"neutralinos","id":"rl","x":1885,"y":0.222},{"g":"neutralinos","id":"rl","x":2031,"y":0.192},{"g":"neutralinos","id":"rl","x":2250,"y":0.157},{"g":"neutralinos","id":"rl","x":2470,"y":0.13},{"g":"neutralinos","id":"rl","x":2750,"y":0.104},{"g":"neutralinos","id":"rl","x":3000,"y":0.084}
    ],
    "plotlabels": [
      {"t": "ZH", "x": 188, "y": 361},
      {"t": "tt\u0304", "x": 730, "y": 408},
      {"t": "H\u03bd\u03bd", "x": 1285, "y": 361}
    ],
    "notes": [
      {"t": "Model 1:", "x": 3923.5, "y": 416.5},
      {"t": "Squarks within CLIC", "x": 3923.5, "y": 174.7},
      {"t": "3 TeV reach, heavy", "x": 3923.5, "y": 73.3},
      {"t": "neutral and charged", "x": 3923.5, "y": 30.75},
      {"t": "Higgs", "x": 3923.5, "y": 12.9},
      {"t": "Light Higgs in W Fusion", "x": 3584.8, "y": 2.462},
      {"t": "Heavy Higgs:", "x": 3587, "y": 0.3295},
      {"t": "H\u207a\u207b, H\u2070A\u2070", "x": 3587, "y": 0.139},
      {"t": "Right Squarks", "x": 3584, "y": 0.0577}
    ],
    "arrows": [
      {"a": 1, "x": 3501.2, "y": 2.183, "x2": 2475.1, "y2": 318.0, "tx": 2443.4, "ty": 370.9},
      {"a": 2, "x": 3408.8, "y": 0.2686, "x2": 1888.5, "y2": 0.02682, "tx": 1843.0, "ty": 0.02504},
      {"a": 3, "x": 3479.8, "y": 0.06614, "x2": 2244.6, "y2": 0.01227, "tx": 2198.0, "ty": 0.01152}
    ]
  },
  "layer": [
    {
      "data": {"name": "curves"},
      "mark": {"type": "line", "clip": true, "strokeWidth": 3.4, "interpolate": "monotone"},
      "encoding": {
        "x": {"field": "x", "type": "quantitative",
          "scale": {"domain": [0, 3000], "nice": false, "zero": false},
          "axis": {"orient": "bottom", "values": [0, 500, 1000, 1500, 2000, 2500, 3000], "format": "d", "title": "\u221as\u0305 (GeV)",
            "domain": false, "grid": false, "tickSize": -13, "tickWidth": 1.5, "tickColor": "black",
            "labelPadding": 24, "labelFontSize": 39, "labelFont": "DejaVu Sans", "labelColor": "black",
            "labelFlush": false, "labelOverlap": false,
            "titleFontSize": 39, "titleFont": "DejaVu Sans", "titleFontWeight": "normal", "titleColor": "black", "titlePadding": 7}},
        "y": {"field": "y", "type": "quantitative",
          "scale": {"type": "log", "domain": [0.01, 1000], "nice": false},
          "axis": {"orient": "left",
            "values": [0.01,0.02,0.03,0.04,0.05,0.06,0.07,0.08,0.09,0.1,0.2,0.3,0.4,0.5,0.6,0.7,0.8,0.9,1,2,3,4,5,6,7,8,9,10,20,30,40,50,60,70,80,90,100,200,300,400,500,600,700,800,900,1000],
            "labelExpr": "datum.value == 1000 ? '10\u00b3' : datum.value == 100 ? '10\u00b2' : datum.value == 10 ? '10\u00b9' : datum.value == 1 ? '10\u2070' : datum.value == 0.1 ? '10\u207b\u00b9' : datum.value == 0.01 ? '10\u207b\u00b2' : ''",
            "tickSize": {"condition": {"test": "indexof([0.01,0.1,1,10,100,1000], datum.value) >= 0", "value": -13}, "value": -7},
            "domain": false, "grid": false, "tickWidth": 1.5, "tickColor": "black",
            "labelPadding": 27, "labelFontSize": 40, "labelFont": "DejaVu Sans", "labelColor": "black",
            "labelFlush": false, "labelOverlap": false,
            "title": "cross section (fb)", "titleFontSize": 41, "titleFont": "DejaVu Sans", "titleFontWeight": "normal", "titleColor": "black", "titlePadding": 20}},
        "color": {"field": "g", "type": "nominal",
          "scale": {"domain": ["Higgs", "slepton", "charginos", "squarks", "SM", "neutralinos"],
                    "range": ["#bfbf00", "#0000ff", "#008000", "#00bfbf", "#000000", "#ff0000"]},
          "legend": {"title": "SUSY Model 1", "orient": "none", "legendX": 1373, "legendY": 0,
            "titleFontSize": 39.5, "titleFont": "DejaVu Sans", "titleFontWeight": "normal", "titleColor": "black",
            "titleAnchor": "middle", "titlePadding": 24, "titleLimit": 0,
            "labelFontSize": 33.5, "labelFont": "DejaVu Sans", "labelColor": "black", "labelLimit": 0,
            "labelExpr": "datum.value == 'slepton' ? '\u03c4\u0303,\u03bc\u0303,e\u0303' : datum.label",
            "symbolType": "M-2,0L2,0", "symbolSize": 1260, "symbolStrokeWidth": 3, "symbolOffset": 32,
            "labelOffset": 70, "rowPadding": 30.3, "padding": 18,
            "strokeColor": "black", "fillColor": "white", "cornerRadius": 0,
            "encode": {"labels": {"update": {
              "font": {"signal": "datum.value == 'slepton' ? 'Liberation Serif' : 'DejaVu Sans'"},
              "fontStyle": {"signal": "datum.value == 'slepton' ? 'italic' : 'normal'"}}}}}},
        "detail": {"field": "id"}
      }
    },
    {
      "data": {"name": "arrows"},
      "mark": {"type": "point", "opacity": 0, "clip": true},
      "encoding": {
        "x": {"field": "tx", "type": "quantitative", "scale": {"domain": [0, 3000], "nice": false, "zero": false},
          "axis": {"orient": "top", "values": [0, 500, 1000, 1500, 2000, 2500, 3000], "labels": false, "domain": false, "grid": false, "title": null, "tickSize": -13, "tickWidth": 1.5, "tickColor": "black"}},
        "y": {"field": "ty", "type": "quantitative", "scale": {"type": "log", "domain": [0.01, 1000], "nice": false},
          "axis": {"orient": "right", "values": [0.01,0.02,0.03,0.04,0.05,0.06,0.07,0.08,0.09,0.1,0.2,0.3,0.4,0.5,0.6,0.7,0.8,0.9,1,2,3,4,5,6,7,8,9,10,20,30,40,50,60,70,80,90,100,200,300,400,500,600,700,800,900,1000],
            "labels": false, "domain": false, "grid": false, "title": null, "tickWidth": 1.5, "tickColor": "black",
            "tickSize": {"condition": {"test": "indexof([0.01,0.1,1,10,100,1000], datum.value) >= 0", "value": -13}, "value": -7}}}
      }
    },
    {
      "data": {"name": "plotlabels"},
      "mark": {"type": "text", "font": "Liberation Serif", "fontStyle": "italic", "fontSize": 42, "align": "center", "baseline": "alphabetic", "color": "black"},
      "encoding": {
        "x": {"field": "x", "type": "quantitative", "scale": {"domain": [0, 3000], "nice": false, "zero": false}, "axis": null},
        "y": {"field": "y", "type": "quantitative", "scale": {"type": "log", "domain": [0.01, 1000], "nice": false}, "axis": null},
        "text": {"field": "t"}
      }
    },
    {
      "data": {"name": "arrows"},
      "mark": {"type": "rule", "strokeWidth": 7, "color": "black"},
      "encoding": {
        "x": {"field": "x", "type": "quantitative", "scale": {"domain": [0, 3000], "nice": false, "zero": false}, "axis": null},
        "y": {"field": "y", "type": "quantitative", "scale": {"type": "log", "domain": [0.01, 1000], "nice": false}, "axis": null},
        "x2": {"field": "x2"},
        "y2": {"field": "y2"}
      }
    },
    {
      "data": {"name": "arrows"},
      "transform": [{"filter": "datum.a == 1"}],
      "mark": {"type": "point", "shape": "M0,0L0.9,2L0,1.5L-0.9,2Z", "size": 1369, "angle": 319, "filled": true, "color": "black", "opacity": 1, "strokeWidth": 0},
      "encoding": {
        "x": {"field": "tx", "type": "quantitative", "scale": {"domain": [0, 3000], "nice": false, "zero": false}, "axis": null},
        "y": {"field": "ty", "type": "quantitative", "scale": {"type": "log", "domain": [0.01, 1000], "nice": false}, "axis": null}
      }
    },
    {
      "data": {"name": "arrows"},
      "transform": [{"filter": "datum.a == 2"}],
      "mark": {"type": "point", "shape": "M0,0L0.9,2L0,1.5L-0.9,2Z", "size": 1369, "angle": 250.2, "filled": true, "color": "black", "opacity": 1, "strokeWidth": 0},
      "encoding": {
        "x": {"field": "tx", "type": "quantitative", "scale": {"domain": [0, 3000], "nice": false, "zero": false}, "axis": null},
        "y": {"field": "ty", "type": "quantitative", "scale": {"type": "log", "domain": [0.01, 1000], "nice": false}, "axis": null}
      }
    },
    {
      "data": {"name": "arrows"},
      "transform": [{"filter": "datum.a == 3"}],
      "mark": {"type": "point", "shape": "M0,0L0.9,2L0,1.5L-0.9,2Z", "size": 1369, "angle": 252.1, "filled": true, "color": "black", "opacity": 1, "strokeWidth": 0},
      "encoding": {
        "x": {"field": "tx", "type": "quantitative", "scale": {"domain": [0, 3000], "nice": false, "zero": false}, "axis": null},
        "y": {"field": "ty", "type": "quantitative", "scale": {"type": "log", "domain": [0.01, 1000], "nice": false}, "axis": null}
      }
    },
    {
      "data": {"name": "notes"},
      "mark": {"type": "text", "font": "Lato", "fontSize": 63, "align": "left", "baseline": "alphabetic", "color": "black"},
      "encoding": {
        "x": {"field": "x", "type": "quantitative", "scale": {"domain": [0, 3000], "nice": false, "zero": false}, "axis": null},
        "y": {"field": "y", "type": "quantitative", "scale": {"type": "log", "domain": [0.01, 1000], "nice": false}, "axis": null},
        "text": {"field": "t"}
      }
    }
  ],
  "resolve": {"axis": {"x": "independent", "y": "independent"}}
}
